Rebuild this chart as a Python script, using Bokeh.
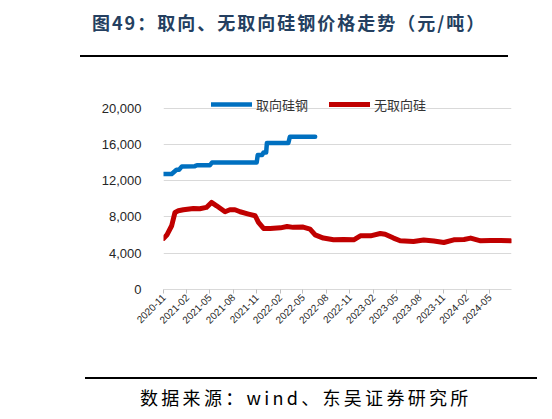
from math import pi
import pandas as pd
from bokeh.plotting import figure
from bokeh.models import (Div, FixedTicker, NumeralTickFormatter, DatetimeTickFormatter,
                          Legend, LegendItem, Range1d)
from bokeh.layouts import column
from bokeh.embed import file_html
from bokeh.resources import INLINE

title_text = "图49：取向、无取向硅钢价格走势（元/吨）"
source_text = "数据来源：wind、东吴证券研究所"
names = ["取向硅钢", "无取向硅"]

# 取向硅钢 (blue, stepwise)
blue_dates = ["2020-11-01", "2020-12-03", "2020-12-22", "2021-01-01", "2021-01-12",
              "2021-03-04", "2021-03-12", "2021-05-02", "2021-05-10", "2021-11-01",
              "2021-11-05", "2021-11-22", "2021-11-28", "2021-12-08", "2021-12-11",
              "2022-03-05", "2022-03-11", "2022-06-18"]
blue_values = [12730, 12730, 13200, 13200, 13570,
               13600, 13700, 13700, 14000, 14000,
               14820, 14820, 15110, 15110, 16150,
               16150, 16840, 16840]

# 无取向硅钢 (red)
red_dates = ["2020-11-01", "2020-11-14", "2020-12-03", "2020-12-16", "2020-12-29",
             "2021-01-18", "2021-02-26", "2021-03-23", "2021-04-18", "2021-05-08",
             "2021-05-28", "2021-06-30", "2021-07-19", "2021-08-08", "2021-08-28",
             "2021-09-30", "2021-10-26", "2021-11-08", "2021-11-28", "2021-12-24",
             "2022-02-02", "2022-02-28", "2022-03-24", "2022-05-02", "2022-05-29",
             "2022-06-18", "2022-07-20", "2022-08-29", "2022-10-07", "2022-11-16",
             "2022-12-12", "2023-01-21", "2023-02-28", "2023-03-19", "2023-04-21",
             "2023-05-17", "2023-07-08", "2023-08-17", "2023-09-26", "2023-11-04",
             "2023-12-13", "2024-01-22", "2024-02-17", "2024-03-27", "2024-05-05",
             "2024-06-14", "2024-07-22"]
red_values = [5630, 6000, 7030, 8500, 8680,
              8790, 8940, 8900, 9050, 9600,
              9230, 8570, 8790, 8790, 8570,
              8320, 8130, 7390, 6730, 6730,
              6800, 6950, 6850, 6880, 6660,
              6030, 5670, 5480, 5520, 5480,
              5920, 5920, 6180, 6100, 5670,
              5370, 5300, 5450, 5340, 5180,
              5480, 5520, 5670, 5370, 5410,
              5410, 5370]

x_ticks = ["2020-11", "2021-02", "2021-05", "2021-08", "2021-11", "2022-02", "2022-05",
           "2022-08", "2022-11", "2023-02", "2023-05", "2023-08", "2023-11", "2024-02",
           "2024-05"]
y_ticks = [0, 4000, 8000, 12000, 16000, 20000]

cjk = "Noto Sans CJK SC"

p = figure(width=552, height=314, x_axis_type="datetime",
           x_range=Range1d(pd.Timestamp("2020-11-01"), pd.Timestamp("2024-07-26")),
           y_range=Range1d(0, 21500),
           output_backend="svg", toolbar_location=None,
           min_border_left=163, min_border_right=41, min_border_top=36, min_border_bottom=83)
p.outline_line_color = None

r_blue = p.line(pd.to_datetime(blue_dates), blue_values, line_color="#0070C0",
                line_width=4.5, line_cap="round", line_join="round")
r_red = p.line(pd.to_datetime(red_dates), red_values, line_color="#C00000",
               line_width=5, line_cap="round", line_join="round")

p.xgrid.visible = False
p.ygrid.grid_line_color = "#D9D9D9"
p.ygrid.grid_line_width = 1

tick_ms = [int(t.value // 10**6) for t in pd.to_datetime(x_ticks)]
p.xaxis.ticker = FixedTicker(ticks=tick_ms)
p.xaxis.formatter = DatetimeTickFormatter(days="%Y-%m", months="%Y-%m", years="%Y-%m")
p.xaxis.major_label_orientation = pi / 4
p.xaxis.axis_line_color = "#D9D9D9"
p.xaxis.major_tick_line_color = "#BFBFBF"
p.xaxis.major_tick_out = 4
p.xaxis.major_tick_in = 0
p.xaxis.minor_tick_line_color = None
p.xaxis.major_label_text_font = "Liberation Sans"
p.xaxis.major_label_text_font_size = "10px"
p.xaxis.major_label_text_color = "#262626"
p.xaxis.major_label_standoff = 2

p.yaxis.ticker = FixedTicker(ticks=y_ticks)
p.yaxis.formatter = NumeralTickFormatter(format="0,0")
p.yaxis.axis_line_color = None
p.yaxis.major_tick_line_color = None
p.yaxis.minor_tick_line_color = None
p.yaxis.major_label_text_font = "Liberation Sans"
p.yaxis.major_label_text_font_size = "13px"
p.yaxis.major_label_text_color = "#262626"
p.yaxis.major_label_standoff = 16

legend = Legend(items=[LegendItem(label=names[0], renderers=[r_blue]),
                       LegendItem(label=names[1], renderers=[r_red])],
                orientation="horizontal", location=(48, 175),
                glyph_width=41, glyph_height=20, label_standoff=4, spacing=21,
                padding=0, margin=0, border_line_color=None, background_fill_alpha=0,
                label_text_font=cjk, label_text_font_size="13px", label_text_color="#333333")
p.add_layout(legend)

head = Div(width=552, height=58, margin=(0, 0, 0, 0), text=(
    '<div style="position:relative;width:552px;height:58px">'
    '<div style="position:absolute;left:92px;top:11px;white-space:nowrap;'
    f'font-family:\'{cjk}\';font-weight:bold;font-size:18px;line-height:22px;'
    f'letter-spacing:2px;color:#243F60">{title_text}</div>'
    '<div style="position:absolute;left:80px;top:55px;width:428px;height:0;'
    'border-top:2px solid #000"></div></div>'))

foot = Div(width=552, height=47, margin=(0, 0, 0, 0), text=(
    '<div style="position:relative;width:552px;height:47px">'
    '<div style="position:absolute;left:85px;top:5px;width:452px;height:0;'
    'border-top:2px solid #000"></div>'
    '<div style="position:absolute;left:140px;top:14px;white-space:nowrap;'
    f'font-family:\'{cjk}\';font-size:18px;line-height:22px;letter-spacing:3.3px;color:#000">'
    f'{source_text}</div></div>'))

layout = column(head, p, foot, spacing=0)
open("out.html", "w").write(file_html(layout, INLINE))
